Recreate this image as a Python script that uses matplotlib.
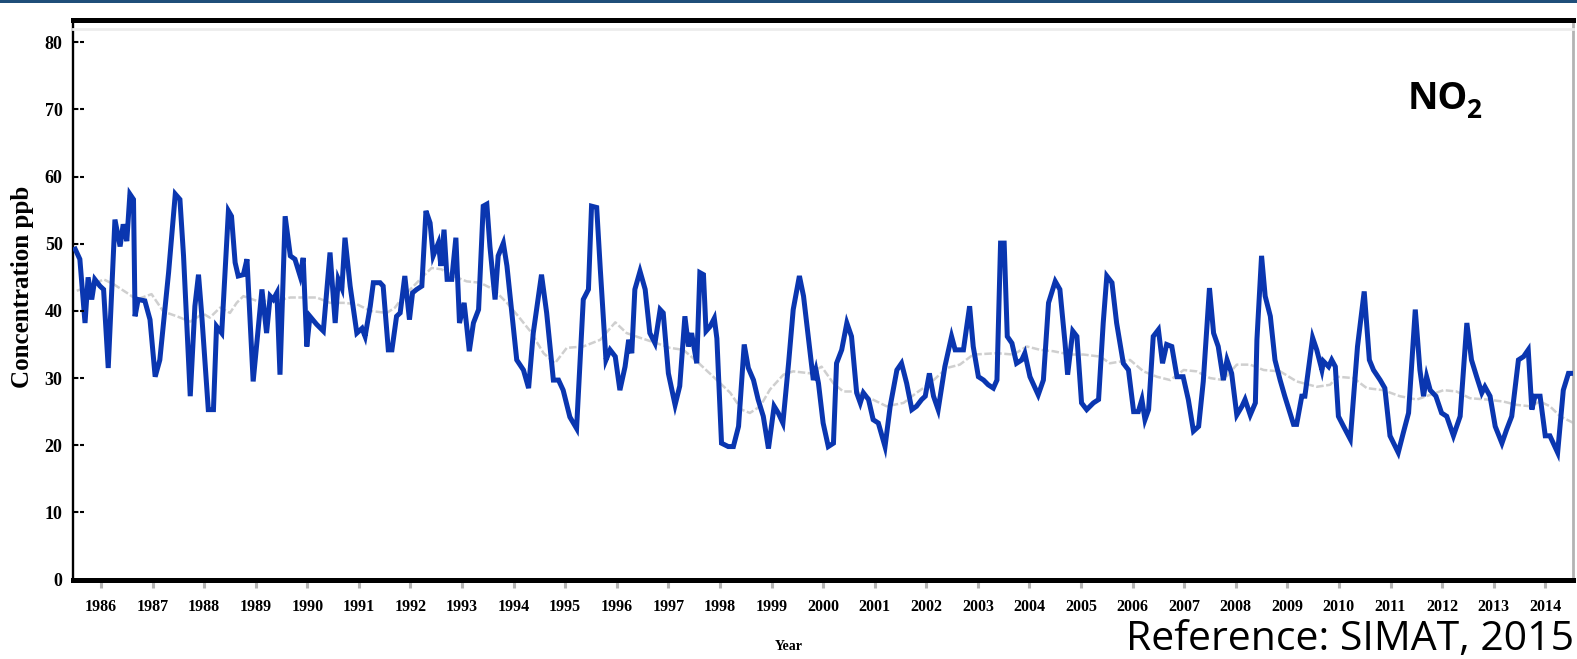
import matplotlib
matplotlib.use("Agg")
import matplotlib.pyplot as plt
from matplotlib.patches import Rectangle
from matplotlib.lines import Line2D

# Monthly NO2 concentration (ppb), Mexico City monitoring network
no2_year = [
    1985.50, 1985.59, 1985.69, 1985.75, 1985.82, 1985.88, 1985.98, 1986.05, 1986.14, 1986.27,
    1986.37, 1986.43, 1986.50, 1986.56, 1986.63, 1986.66, 1986.72, 1986.85, 1986.95, 1987.05,
    1987.14, 1987.31, 1987.44, 1987.53, 1987.60, 1987.73, 1987.82, 1987.89, 1987.95, 1988.08,
    1988.18, 1988.24, 1988.34, 1988.47, 1988.53, 1988.60, 1988.66, 1988.76, 1988.83, 1988.95,
    1989.12, 1989.21, 1989.28, 1989.34, 1989.41, 1989.47, 1989.57, 1989.67, 1989.76, 1989.86,
    1989.92, 1989.99, 1990.05, 1990.18, 1990.31, 1990.44, 1990.54, 1990.60, 1990.67, 1990.73,
    1990.83, 1990.96, 1991.06, 1991.12, 1991.22, 1991.28, 1991.41, 1991.47, 1991.57, 1991.64,
    1991.73, 1991.80, 1991.89, 1991.98, 1992.04, 1992.12, 1992.22, 1992.30, 1992.38, 1992.44,
    1992.54, 1992.59, 1992.65, 1992.71, 1992.80, 1992.88, 1992.95, 1993.04, 1993.09, 1993.14,
    1993.22, 1993.32, 1993.41, 1993.48, 1993.54, 1993.64, 1993.70, 1993.80, 1993.87, 1994.06,
    1994.19, 1994.29, 1994.38, 1994.54, 1994.64, 1994.77, 1994.87, 1994.96, 1995.09, 1995.22,
    1995.35, 1995.45, 1995.51, 1995.61, 1995.68, 1995.79, 1995.87, 1995.97, 1996.06, 1996.16,
    1996.23, 1996.29, 1996.35, 1996.45, 1996.55, 1996.64, 1996.74, 1996.84, 1996.90, 1997.00,
    1997.13, 1997.22, 1997.32, 1997.39, 1997.45, 1997.55, 1997.61, 1997.68, 1997.73, 1997.81,
    1997.89, 1997.94, 1998.03, 1998.16, 1998.26, 1998.36, 1998.47, 1998.55, 1998.65, 1998.74,
    1998.84, 1998.94, 1999.05, 1999.13, 1999.22, 1999.33, 1999.42, 1999.54, 1999.62, 1999.75,
    1999.81, 1999.86, 1999.91, 2000.00, 2000.10, 2000.20, 2000.26, 2000.36, 2000.46, 2000.55,
    2000.65, 2000.72, 2000.78, 2000.88, 2000.97, 2001.07, 2001.20, 2001.30, 2001.43, 2001.52,
    2001.62, 2001.72, 2001.81, 2001.91, 2001.98, 2002.06, 2002.14, 2002.23, 2002.36, 2002.49,
    2002.56, 2002.72, 2002.84, 2002.91, 2003.01, 2003.11, 2003.20, 2003.30, 2003.37, 2003.44,
    2003.51, 2003.57, 2003.66, 2003.75, 2003.85, 2003.91, 2004.01, 2004.17, 2004.27, 2004.37,
    2004.50, 2004.59, 2004.69, 2004.74, 2004.84, 2004.92, 2005.01, 2005.11, 2005.24, 2005.34,
    2005.43, 2005.50, 2005.60, 2005.69, 2005.82, 2005.92, 2006.02, 2006.11, 2006.18, 2006.24,
    2006.31, 2006.40, 2006.50, 2006.58, 2006.66, 2006.76, 2006.86, 2006.98, 2007.08, 2007.18,
    2007.28, 2007.37, 2007.49, 2007.57, 2007.66, 2007.76, 2007.83, 2007.92, 2008.02, 2008.12,
    2008.18, 2008.28, 2008.38, 2008.41, 2008.50, 2008.57, 2008.67, 2008.76, 2008.86, 2008.95,
    2009.12, 2009.18, 2009.28, 2009.34, 2009.49, 2009.57, 2009.67, 2009.70, 2009.80, 2009.86,
    2009.93, 2009.99, 2010.09, 2010.22, 2010.36, 2010.49, 2010.59, 2010.67, 2010.80, 2010.89,
    2010.99, 2011.15, 2011.25, 2011.35, 2011.48, 2011.57, 2011.64, 2011.70, 2011.77, 2011.88,
    2011.99, 2012.09, 2012.22, 2012.35, 2012.48, 2012.57, 2012.67, 2012.77, 2012.83, 2012.93,
    2013.03, 2013.16, 2013.25, 2013.35, 2013.48, 2013.58, 2013.67, 2013.74, 2013.80, 2013.90,
    2014.00, 2014.09, 2014.24, 2014.35, 2014.45, 2014.51,
]
no2_ppb = [
    49.2, 47.7, 38.2, 45.0, 41.7, 44.7, 43.7, 43.2, 31.5, 53.6,
    49.6, 52.9, 50.4, 57.4, 56.6, 39.2, 41.7, 41.5, 38.7, 30.2,
    32.7, 45.7, 57.4, 56.6, 48.2, 27.3, 40.7, 45.4, 39.7, 25.3,
    25.3, 37.7, 36.7, 54.9, 54.1, 47.2, 45.2, 45.4, 47.7, 29.5,
    43.2, 36.7, 42.2, 41.7, 42.7, 30.5, 54.1, 48.2, 47.7, 45.2,
    47.9, 34.7, 39.2, 38.0, 37.0, 48.7, 38.2, 44.7, 43.4, 50.9,
    43.7, 36.7, 37.4, 36.2, 40.7, 44.2, 44.2, 43.7, 34.2, 34.2,
    39.2, 39.7, 45.2, 38.7, 42.7, 43.2, 43.7, 54.9, 53.1, 48.2,
    50.1, 46.7, 52.1, 44.7, 44.7, 50.9, 38.2, 41.2, 37.7, 34.0,
    38.2, 40.2, 55.6, 55.9, 49.6, 41.7, 48.2, 50.1, 46.7, 32.7,
    31.2, 28.5, 36.7, 45.4, 39.7, 29.7, 29.7, 28.2, 24.2, 22.5,
    41.7, 43.2, 55.6, 55.4, 46.2, 32.7, 34.2, 33.2, 28.2, 31.7,
    35.7, 33.7, 43.2, 45.9, 43.2, 36.7, 35.2, 40.2, 39.7, 30.7,
    26.0, 28.8, 39.2, 34.7, 36.7, 32.2, 45.7, 45.4, 37.0, 37.7,
    38.9, 35.9, 20.3, 19.8, 19.8, 22.8, 35.0, 31.5, 29.7, 26.8,
    24.3, 19.5, 25.8, 24.8, 23.3, 32.2, 40.2, 45.2, 42.2, 33.7,
    29.7, 31.2, 29.2, 23.3, 19.8, 20.3, 32.2, 34.2, 38.2, 36.2,
    27.8, 26.3, 27.8, 26.8, 23.8, 23.3, 19.8, 25.8, 31.2, 32.2,
    29.2, 25.3, 25.8, 26.8, 27.3, 30.7, 27.3, 25.3, 31.7, 36.2,
    34.2, 34.2, 40.7, 34.7, 30.2, 29.7, 29.0, 28.5, 29.7, 50.1,
    50.1, 36.2, 35.2, 32.2, 32.7, 33.7, 30.2, 27.5, 29.7, 41.2,
    44.4, 43.2, 35.2, 30.5, 37.0, 36.2, 26.3, 25.3, 26.3, 26.8,
    38.2, 45.2, 44.2, 38.2, 32.2, 31.2, 25.0, 25.0, 26.8, 23.8,
    25.3, 36.2, 37.2, 32.2, 35.0, 34.7, 30.2, 30.2, 26.8, 22.1,
    22.8, 29.5, 43.4, 36.7, 34.7, 29.7, 32.7, 30.7, 24.5, 25.8,
    26.8, 24.5, 26.3, 35.7, 48.2, 42.2, 39.2, 32.7, 29.7, 27.3,
    23.1, 23.1, 27.3, 27.3, 36.0, 34.2, 31.2, 32.5, 31.7, 32.7,
    31.7, 24.3, 22.8, 20.9, 34.7, 42.9, 32.7, 31.2, 29.7, 28.5,
    21.4, 18.9, 21.9, 24.8, 40.2, 31.2, 27.3, 30.2, 28.2, 27.3,
    24.8, 24.3, 21.4, 24.3, 38.2, 32.7, 30.2, 27.8, 28.7, 27.3,
    22.8, 20.3, 22.3, 24.3, 32.7, 33.2, 34.2, 25.3, 27.3, 27.3,
    21.4, 21.4, 18.9, 28.2, 30.7, 30.7,
]

# Smoothed long-term trend
trend_year = [
    1985.53, 1985.79, 1986.05, 1986.24, 1986.50, 1986.69, 1986.98, 1987.21, 1987.47, 1987.73,
    1987.98, 1988.11, 1988.31, 1988.50, 1988.63, 1988.76, 1989.02, 1989.41, 1989.67, 1989.92,
    1990.18, 1990.44, 1990.70, 1990.96, 1991.22, 1991.54, 1991.70, 1991.86, 1992.06, 1992.25,
    1992.41, 1992.60, 1992.83, 1993.09, 1993.35, 1993.61, 1993.87, 1994.09, 1994.32, 1994.58,
    1994.80, 1995.03, 1995.35, 1995.68, 1995.97, 1996.19, 1996.45, 1996.77, 1997.03, 1997.29,
    1997.55, 1997.94, 1998.20, 1998.42, 1998.58, 1998.78, 1998.97, 1999.23, 1999.42, 1999.75,
    1999.97, 2000.20, 2000.39, 2000.65, 2000.91, 2001.23, 2001.56, 2001.81, 2002.07, 2002.40,
    2002.65, 2002.91, 2003.37, 2003.69, 2003.95, 2004.21, 2004.46, 2004.79, 2005.05, 2005.37,
    2005.56, 2005.95, 2006.21, 2006.47, 2006.73, 2006.99, 2007.24, 2007.50, 2007.76, 2008.02,
    2008.28, 2008.54, 2008.86, 2009.18, 2009.57, 2009.83, 2009.96, 2010.28, 2010.54, 2010.86,
    2011.18, 2011.51, 2011.77, 2012.03, 2012.28, 2012.54, 2012.87, 2013.19, 2013.45, 2013.71,
    2013.90, 2014.09, 2014.29, 2014.55,
]
trend_ppb = [
    43.0, 43.7, 44.7, 44.0, 42.7, 41.7, 42.5, 39.9, 39.2, 38.4,
    39.6, 39.0, 40.5, 39.7, 41.2, 42.2, 41.5, 41.5, 42.0, 42.0,
    42.0, 41.2, 41.2, 41.0, 40.0, 39.7, 40.5, 42.2, 43.7, 45.2,
    46.4, 46.2, 45.2, 44.4, 44.2, 43.2, 41.2, 39.2, 37.0, 33.7,
    32.2, 34.5, 34.7, 35.7, 38.3, 36.7, 36.0, 35.2, 34.5, 34.2,
    32.5, 29.7, 27.8, 25.3, 24.8, 25.8, 28.3, 30.5, 31.0, 30.7,
    31.7, 29.2, 28.0, 28.0, 27.0, 25.8, 26.3, 27.8, 29.2, 31.5,
    32.0, 33.5, 33.7, 33.5, 34.7, 34.2, 34.0, 33.5, 33.5, 33.2,
    32.2, 32.7, 31.0, 30.2, 29.7, 31.2, 31.0, 30.0, 29.7, 32.0,
    32.0, 31.2, 31.0, 29.5, 28.7, 29.0, 30.2, 30.0, 28.5, 28.2,
    27.3, 26.8, 27.5, 28.2, 28.0, 27.0, 26.8, 26.5, 26.0, 25.8,
    26.5, 25.8, 24.3, 23.3,
]

year_ticks = list(range(1986, 2015))
ppb_ticks = [0, 10, 20, 30, 40, 50, 60, 70, 80]

serif = "Liberation Serif"
sans = "Open Sans"

W, H = 1577, 659
fig = plt.figure(figsize=(W / 100, H / 100), dpi=100)
fig.patch.set_facecolor("white")

# dark band along the top edge
fig.patches.append(Rectangle((0, 1 - 3 / H), 1, 3 / H, transform=fig.transFigure,
                             facecolor="#1f4e79", edgecolor="none"))

ax = fig.add_axes([73 / W, 79.5 / H, 1500 / W, 560 / H])
ax.set_xlim(1985.457, 2014.538)
ax.set_ylim(0, 83.4)

ax.plot(trend_year, trend_ppb, color="#cfcfcf", lw=1.8, ls=(0, (3, 1)), zorder=2)
ax.plot(no2_year, no2_ppb, color="#0a36b0", lw=3.6, solid_joinstyle="miter", zorder=3)

# frame
for side in ("top", "bottom"):
    ax.spines[side].set_linewidth(3.6)
    ax.spines[side].set_color("black")
ax.spines["left"].set_linewidth(1.7)
ax.spines["left"].set_color("black")
ax.spines["right"].set_linewidth(2.0)
ax.spines["right"].set_color("#b3b3b3")

fig.add_artist(Line2D([73 / W, 1573 / W], [1 - 29 / H, 1 - 29 / H], transform=fig.transFigure,
                      color="#ececec", lw=2))

# y ticks: dashed marks just inside the left spine
ax.set_yticks(ppb_ticks)
ax.set_yticklabels([str(v) for v in ppb_ticks], fontfamily=serif, fontweight="bold", fontsize=13)
ax.tick_params(axis="y", length=0, pad=7.5)
ytrans = ax.get_yaxis_transform()
for v in ppb_ticks:
    ax.plot([0.0008, 0.0075], [v, v], transform=ytrans, color="black", lw=1.5,
            ls=(0, (2.1, 0.8)), dash_capstyle="butt",
            clip_on=False, zorder=4)

ax.set_xticks(year_ticks)
ax.set_xticklabels([str(y) for y in year_ticks], fontfamily=serif, fontweight="bold", fontsize=11.5)
ax.tick_params(axis="x", direction="out", length=6, width=2.2, color="#b5b5b5", pad=8)

fig.text(23 / W, 1 - 287 / H, "Concentration ppb", rotation=90, ha="center", va="center",
         fontfamily=serif, fontweight="bold", fontsize=18)
fig.text(789 / W, 1 - 647 / H, "Year", ha="center", va="center",
         fontfamily=serif, fontweight="bold", fontsize=10)

fig.text(1408 / W, 1 - 109 / H, "NO", ha="left", va="baseline",
         fontfamily=sans, fontweight="bold", fontsize=27)
fig.text(1466 / W, 1 - 118 / H, "2", ha="left", va="baseline",
         fontfamily=sans, fontweight="bold", fontsize=19)

fig.text(1574 / W, 1 - 650 / H, "Reference: SIMAT, 2015", ha="right", va="baseline",
         fontfamily=sans, fontsize=29.5, color="black")

fig.savefig("out.png", dpi=100)
